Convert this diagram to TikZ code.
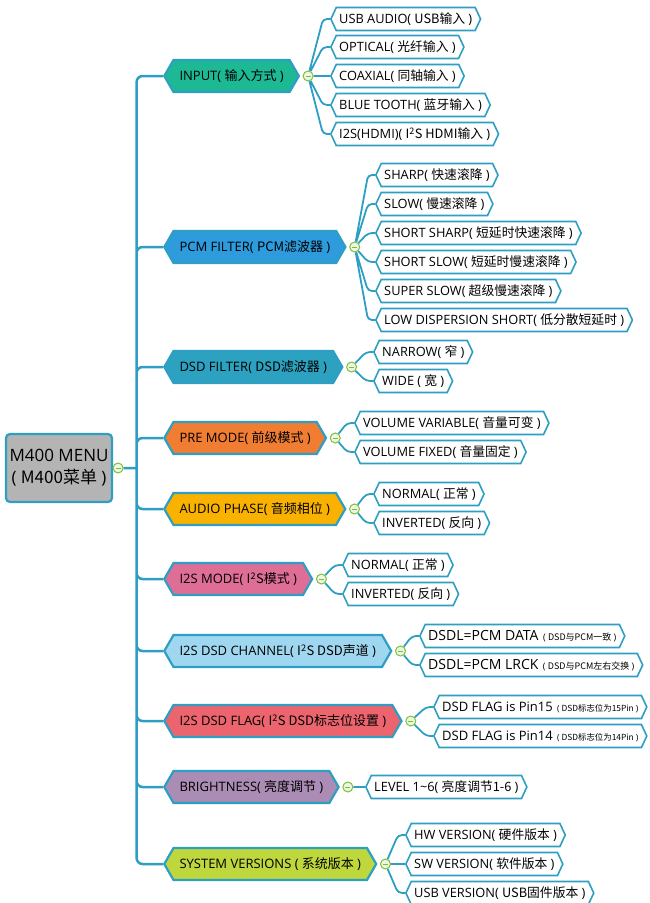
\documentclass[tikz,border=0pt]{standalone}
\usepackage{fontspec}
\setmainfont{Open Sans}
\newfontfamily\cjk{Noto Sans CJK SC}
\usetikzlibrary{shapes.symbols}

\definecolor{linec}{HTML}{2E9FC3}
\definecolor{foldc}{HTML}{7DBE3C}
\definecolor{foldbg}{HTML}{EEF7E4}
\definecolor{rootfill}{HTML}{B4B4B4}
\definecolor{inputfill}{HTML}{1DB994}
\definecolor{pcmfill}{HTML}{2D9BDC}
\definecolor{dsdfill}{HTML}{2CA2C0}
\definecolor{prefill}{HTML}{F07D32}
\definecolor{phasefill}{HTML}{FAB200}
\definecolor{modefill}{HTML}{DE6E96}
\definecolor{chanfill}{HTML}{A0D7F0}
\definecolor{flagfill}{HTML}{EB646E}
\definecolor{brightfill}{HTML}{AA8CB4}
\definecolor{sysfill}{HTML}{BED73C}

\newcommand{\zhp}[1]{(\hspace{.25em}{\cjk #1}\hspace{.25em})}
\newcommand{\subnote}[2][9]{{\fontsize{#1}{10}\selectfont\hspace{.5em}\zhp{#2}}}

\begin{document}
\begin{tikzpicture}[x=1pt,y=-1pt,
  trunk/.style={draw=linec,line width=2.5pt,rounded corners=6pt},
  twig/.style={draw=linec,line width=1.8pt,rounded corners=4pt},
  branch/.style={signal,signal to=east and west,signal pointer angle=120,
    draw=linec,line width=2.2pt,minimum height=32pt,inner xsep=6pt,
    anchor=west,font=\fontsize{13}{15}\selectfont},
  leaf/.style={signal,signal to=east and west,signal pointer angle=130,
    draw=linec,fill=white,line width=1.6pt,minimum height=23pt,inner xsep=3pt,
    anchor=west,font=\fontsize{12.8}{15}\selectfont},
  rootbox/.style={rectangle,rounded corners=4pt,draw=linec,fill=rootfill,
    line width=2.2pt,minimum width=106pt,minimum height=68pt,align=center,
    font=\fontsize{17}{22}\selectfont},
  fold/.style={circle,draw=foldc,fill=foldbg,line width=1pt,minimum size=10pt,
    inner sep=0pt,path picture={\draw[foldc,line width=1pt]
      ([xshift=-2.6pt]path picture bounding box.center) --
      ([xshift=2.6pt]path picture bounding box.center);}}
]
  \useasboundingbox (0,0) rectangle (649,903);

  % root
  \node[rootbox] (menu) at (59,468) {M400 MENU\\\zhp{M400菜单}};
  \node[fold] (menuc) at ([xshift=5pt]menu.east) {};
  \coordinate (hub) at ([xshift=13pt]menuc.east);

  % branches
  \node[branch,fill=inputfill] (input) at (163,76) {INPUT\zhp{输入方式}};
  \node[branch,fill=pcmfill] (pcm) at (163,247) {PCM FILTER\zhp{PCM滤波器}};
  \node[branch,fill=dsdfill] (dsd) at (163,367) {DSD FILTER\zhp{DSD滤波器}};
  \node[branch,fill=prefill] (pre) at (163,438) {PRE MODE\zhp{前级模式}};
  \node[branch,fill=phasefill] (phase) at (163,509) {AUDIO PHASE\zhp{音频相位}};
  \node[branch,fill=modefill] (mode) at (163,579) {I2S MODE\zhp{I\textsuperscript{2}S模式}};
  \node[branch,fill=chanfill] (chan) at (163,651) {I2S DSD CHANNEL\zhp{I\textsuperscript{2}S DSD声道}};
  \node[branch,fill=flagfill] (flag) at (163,721) {I2S DSD FLAG\zhp{I\textsuperscript{2}S DSD标志位设置}};
  \node[branch,fill=brightfill] (bright) at (163,787) {BRIGHTNESS\zhp{亮度调节}};
  \node[branch,fill=sysfill] (sys) at (163,864) {SYSTEM VERSIONS \zhp{系统版本}};

  \node[fold] (inputc) at ([xshift=8pt]input.east) {};
  \node[fold] (pcmc) at ([xshift=8pt]pcm.east) {};
  \node[fold] (dsdc) at ([xshift=8pt]dsd.east) {};
  \node[fold] (prec) at ([xshift=8pt]pre.east) {};
  \node[fold] (phasec) at ([xshift=8pt]phase.east) {};
  \node[fold] (modec) at ([xshift=8pt]mode.east) {};
  \node[fold] (chanc) at ([xshift=8pt]chan.east) {};
  \node[fold] (flagc) at ([xshift=8pt]flag.east) {};
  \node[fold] (brightc) at ([xshift=8pt]bright.east) {};
  \node[fold] (sysc) at ([xshift=8pt]sys.east) {};

  % leaves
  \node[leaf] (usbin) at (330,19) {USB AUDIO\zhp{USB输入}};
  \node[leaf] (optin) at (330,47) {OPTICAL\zhp{光纤输入}};
  \node[leaf] (coaxin) at (330,76) {COAXIAL\zhp{同轴输入}};
  \node[leaf] (btin) at (330,105) {BLUE TOOTH\zhp{蓝牙输入}};
  \node[leaf] (hdmiin) at (330,134) {I2S(HDMI)\zhp{I\textsuperscript{2}S HDMI输入}};

  \node[leaf] (sharp) at (375,175) {SHARP\zhp{快速滚降}};
  \node[leaf] (slow) at (375,204) {SLOW\zhp{慢速滚降}};
  \node[leaf] (ssharp) at (375,233) {SHORT SHARP\zhp{短延时快速滚降}};
  \node[leaf] (sslow) at (375,262) {SHORT SLOW\zhp{短延时慢速滚降}};
  \node[leaf] (superslow) at (375,291) {SUPER SLOW\zhp{超级慢速滚降}};
  \node[leaf] (lowdisp) at (375,320) {LOW DISPERSION SHORT\zhp{低分散短延时}};

  \node[leaf] (narrow) at (373,352) {NARROW\zhp{窄}};
  \node[leaf] (wide) at (373,381) {WIDE \zhp{宽}};

  \node[leaf] (volvar) at (354,423) {VOLUME VARIABLE\zhp{音量可变}};
  \node[leaf] (volfix) at (354,452) {VOLUME FIXED\zhp{音量固定}};

  \node[leaf] (phnorm) at (373,494) {NORMAL\zhp{正常}};
  \node[leaf] (phinv) at (373,523) {INVERTED\zhp{反向}};

  \node[leaf] (i2snorm) at (342,565) {NORMAL\zhp{正常}};
  \node[leaf] (i2sinv) at (342,594) {INVERTED\zhp{反向}};

  \node[leaf,font=\fontsize{14}{16}\selectfont] (chdata) at (419,636) {DSDL=PCM DATA\subnote{DSD与PCM一致}};
  \node[leaf,font=\fontsize{14}{16}\selectfont] (chlrck) at (419,665) {DSDL=PCM LRCK\subnote{DSD与PCM左右交换}};

  \node[leaf,font=\fontsize{13}{15}\selectfont] (pin15) at (433,707) {DSD FLAG is Pin15\subnote[8.4]{DSD标志位为15Pin}};
  \node[leaf,font=\fontsize{13}{15}\selectfont] (pin14) at (433,736) {DSD FLAG is Pin14\subnote[8.4]{DSD标志位为14Pin}};

  \node[leaf] (level) at (365,787) {LEVEL 1\textasciitilde6\zhp{亮度调节1-6}};

  \node[leaf] (hwver) at (405,835) {HW VERSION\zhp{硬件版本}};
  \node[leaf] (swver) at (405,864) {SW VERSION\zhp{软件版本}};
  \node[leaf] (usbver) at (405,893) {USB VERSION\zhp{USB固件版本}};

  % trunk
  \draw[trunk]
    (menuc) -- (hub)
    (hub) |- (input.west)
    (hub) |- (pcm.west)
    (hub) |- (dsd.west)
    (hub) |- (pre.west)
    (hub) |- (phase.west)
    (hub) |- (mode.west)
    (hub) |- (chan.west)
    (hub) |- (flag.west)
    (hub) |- (bright.west)
    (hub) |- (sys.west)
  ;

  % twigs
  \draw[twig]
    (inputc) -- ([xshift=-7pt]usbin.west) -- (usbin.west)
    (inputc) -- ([xshift=-7pt]optin.west) -- (optin.west)
    (inputc) -- (coaxin.west)
    (inputc) -- ([xshift=-7pt]btin.west) -- (btin.west)
    (inputc) -- ([xshift=-7pt]hdmiin.west) -- (hdmiin.west)
  ;
  \draw[twig]
    (pcmc) -- ([xshift=-7pt]sharp.west) -- (sharp.west)
    (pcmc) -- ([xshift=-7pt]slow.west) -- (slow.west)
    (pcmc) -- ([xshift=-7pt]ssharp.west) -- (ssharp.west)
    (pcmc) -- ([xshift=-7pt]sslow.west) -- (sslow.west)
    (pcmc) -- ([xshift=-7pt]superslow.west) -- (superslow.west)
    (pcmc) -- ([xshift=-7pt]lowdisp.west) -- (lowdisp.west)
  ;
  \draw[twig]
    (dsdc) -- ([xshift=-7pt]narrow.west) -- (narrow.west)
    (dsdc) -- ([xshift=-7pt]wide.west) -- (wide.west)
    (prec) -- ([xshift=-7pt]volvar.west) -- (volvar.west)
    (prec) -- ([xshift=-7pt]volfix.west) -- (volfix.west)
    (phasec) -- ([xshift=-7pt]phnorm.west) -- (phnorm.west)
    (phasec) -- ([xshift=-7pt]phinv.west) -- (phinv.west)
    (modec) -- ([xshift=-7pt]i2snorm.west) -- (i2snorm.west)
    (modec) -- ([xshift=-7pt]i2sinv.west) -- (i2sinv.west)
    (chanc) -- ([xshift=-7pt]chdata.west) -- (chdata.west)
    (chanc) -- ([xshift=-7pt]chlrck.west) -- (chlrck.west)
    (flagc) -- ([xshift=-7pt]pin15.west) -- (pin15.west)
    (flagc) -- ([xshift=-7pt]pin14.west) -- (pin14.west)
    (brightc) -- (level.west)
    (sysc) -- ([xshift=-7pt]hwver.west) -- (hwver.west)
    (sysc) -- (swver.west)
    (sysc) -- ([xshift=-7pt]usbver.west) -- (usbver.west)
  ;
\end{tikzpicture}
\end{document}
